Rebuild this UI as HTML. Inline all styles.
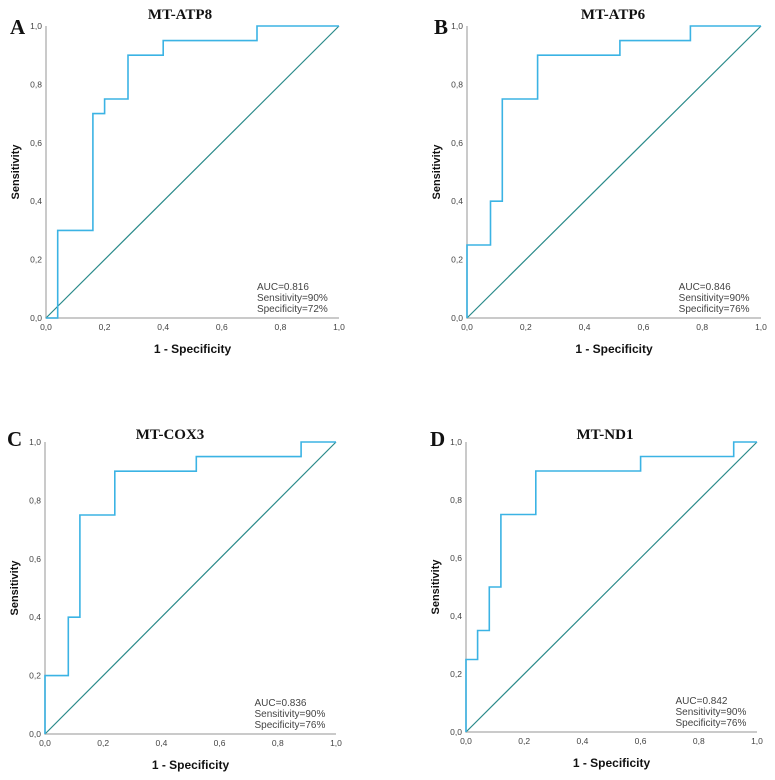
<!DOCTYPE html>
<html><head><meta charset="utf-8"><style>
body{margin:0;background:#fff;width:775px;height:780px;overflow:hidden}
svg{display:block}
text{font-family:"Liberation Sans",Arial,sans-serif}
.ser{font-family:"Liberation Serif","Times New Roman",serif;font-weight:bold}
</style></head><body>
<svg id="chart" width="775" height="780"></svg>
<script>
const panelNames = ["MT-ATP8","MT-ATP6","MT-COX3","MT-ND1"];
const panelLetters = ["A","B","C","D"];
const fprA = [0,0.04,0.04,0.16,0.16,0.2,0.2,0.28,0.28,0.4,0.4,0.72,0.72,1];
const tprA = [0,0,0.3,0.3,0.7,0.7,0.75,0.75,0.9,0.9,0.95,0.95,1,1];
const fprB = [0,0,0.08,0.08,0.12,0.12,0.24,0.24,0.52,0.52,0.76,0.76,1];
const tprB = [0,0.25,0.25,0.4,0.4,0.75,0.75,0.9,0.9,0.95,0.95,1,1];
const fprC = [0,0,0.08,0.08,0.12,0.12,0.24,0.24,0.52,0.52,0.88,0.88,1];
const tprC = [0,0.2,0.2,0.4,0.4,0.75,0.75,0.9,0.9,0.95,0.95,1,1];
const fprD = [0,0,0.04,0.04,0.08,0.08,0.12,0.12,0.24,0.24,0.6,0.6,0.92,0.92,1];
const tprD = [0,0.25,0.25,0.35,0.35,0.5,0.5,0.75,0.75,0.9,0.9,0.95,0.95,1,1];
const aucVals = ["0.816","0.846","0.836","0.842"];
const sensVals = ["90%","90%","90%","90%"];
const specVals = ["72%","76%","76%","76%"];
const tickLabels = ["0,0","0,2","0,4","0,6","0,8","1,0"];
const tickVals = [0,0.2,0.4,0.6,0.8,1];

const NS="http://www.w3.org/2000/svg";
const svg=document.getElementById('chart');
function mk(tag,attrs,parent,txt){const e=document.createElementNS(NS,tag);for(const k in attrs)e.setAttribute(k,attrs[k]);if(txt!=null)e.textContent=txt;(parent||svg).appendChild(e);return e;}

const layout=[
 {x0:46,x1:339,y0:26,y1:318,tx:180,ty:19,lx:10,ly:34},
 {x0:467,x1:761,y0:26,y1:318,tx:613,ty:19,lx:434,ly:34},
 {x0:45,x1:336,y0:442,y1:734,tx:170,ty:439,lx:7,ly:446},
 {x0:466,x1:757,y0:442,y1:732,tx:605,ty:439,lx:430,ly:446}
];
const series=[[fprA,tprA],[fprB,tprB],[fprC,tprC],[fprD,tprD]];

layout.forEach((L,i)=>{
  const g=mk('g',{});
  
  
  const sx=v=>L.x0+v*(L.x1-L.x0), sy=v=>L.y1-v*(L.y1-L.y0);
  const t=mk('text',{x:L.tx,y:L.ty,'text-anchor':'middle','font-size':15,class:'ser',fill:'#111'},g,panelNames[i]);
  
  
  const lt=mk('text',{x:L.lx,y:L.ly,'font-size':21,class:'ser',fill:'#111'},g,panelLetters[i]);
  
  
  const ax=mk('path',{d:`M${L.x0},${L.y0}V${L.y1}H${L.x1}`,fill:'none',stroke:'#b8b8b8','stroke-width':1.5},g);
  
  
  tickVals.forEach((v,k)=>{
    const yt=mk('text',{x:L.x0-4,y:sy(v)+3,'text-anchor':'end','font-size':8.5,fill:'#444'},g,tickLabels[k]);
    
    
    const xt=mk('text',{x:sx(v),y:L.y1+12,'text-anchor':'middle','font-size':8.5,fill:'#444'},g,tickLabels[k]);
    
    
  });
  const yl=mk('text',{x:0,y:0,'text-anchor':'middle','font-size':11,'font-weight':'bold',fill:'#111',transform:`translate(${L.x0-27},${(L.y0+L.y1)/2}) rotate(-90)`},g,'Sensitivity');
  
  
  const xl=mk('text',{x:(L.x0+L.x1)/2,y:L.y1+35,'text-anchor':'middle','font-size':12,'font-weight':'bold',fill:'#111'},g,'1 - Specificity');
  
  
  const dg=mk('line',{x1:sx(0),y1:sy(0),x2:sx(1),y2:sy(1),stroke:'#2a8a8a','stroke-width':1.2},g);
  
  
  const [fx,ty]=series[i];
  const d=fx.map((v,k)=>(k?'L':'M')+sx(v).toFixed(1)+','+sy(ty[k]).toFixed(1)).join('');
  const rc=mk('path',{d:d,fill:'none',stroke:'#3bb3e4','stroke-width':1.6},g);
  
  
  const ann=[ 'AUC='+aucVals[i],'Sensitivity='+sensVals[i],'Specificity='+specVals[i] ];
  const ax0=L.x0+0.72*(L.x1-L.x0);
  ann.forEach((s,k)=>{
    const at=mk('text',{x:ax0,y:L.y1-28+k*11,'font-size':10,fill:'#444'},g,s);
    
    
  });
});
</script>
</body></html>
